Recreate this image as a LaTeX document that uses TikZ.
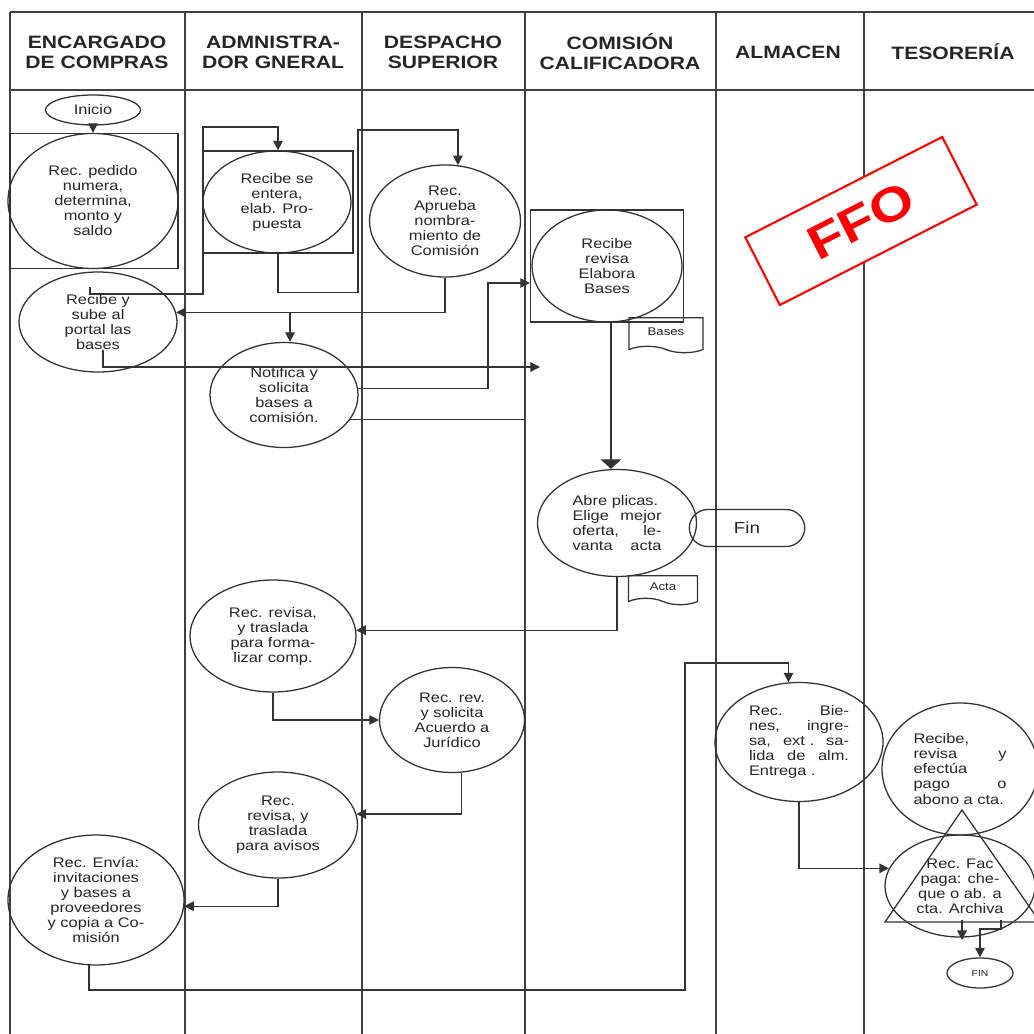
\documentclass[tikz,border=0pt]{standalone}
\usepackage{fontspec}
\setmainfont{Liberation Sans}[FakeStretch=1.18]
\usetikzlibrary{shapes.geometric,shapes.misc,shapes.symbols,arrows.meta}

\newcommand{\bodyfont}{\fontsize{8.7}{9.4}\selectfont}
\newcommand{\headfont}{\bfseries\fontsize{11.2}{12.5}\selectfont}

\begin{document}
\begin{tikzpicture}[x=0.626pt, y=-0.626pt,
    sz/.style 2 args={minimum width=#1*0.626pt, minimum height=#2*0.626pt},
    lane/.style={draw=black!75, line width=0.8pt},
    link/.style={draw=black!80, line width=0.8pt},
    flow/.style={link, -{Triangle[length=6pt,width=6pt]}},
    act/.style={ellipse, draw=black!80, line width=0.8pt, inner sep=0pt, align=center, text=black!85, font=\bodyfont},
    frame/.style={rectangle, draw=black!80, line width=0.8pt, inner sep=0pt},
    doc/.style={tape, tape bend top=none, tape bend bottom=out and in, tape bend height=4pt,
                draw=black!80, line width=0.8pt, inner sep=0pt, text=black!85, font=\fontsize{7}{8}\selectfont},
    hd/.style={align=center, text=black!85, font=\headfont}]

    \clip (0,0) rectangle (1034,1034);
    \fill[white] (0,0) rectangle (1034,1034);

    % swimlanes
    \draw[lane] (10,12) -- (1034,12) (10,90) -- (1034,90);
    \foreach \x in {10,185,362,525,716,864}
        \draw[lane] (\x,12) -- (\x,1034);

    \foreach \x/\t [count=\i] in {97/{ENCARGADO\\DE COMPRAS}, 273/{ADMNISTRA-\\DOR GNERAL},
            443/{DESPACHO\\SUPERIOR}, 620/{COMISIÓN\\CALIFICADORA}, 788/{ALMACEN}, 953/{TESORERÍA}}
        \node[hd] (h\i) at (\x,52) {\t};

    % activities
    \node[act, sz={95}{30}] (inicio) at (93,110) {Inicio};
    \node[frame, sz={168}{135}] (pedidobox) at (94,201) {};
    \node[act, sz={170}{135}] (pedido) at (93,201) {Rec. pedido\\numera,\\determina,\\monto y\\saldo};
    \node[act, sz={158}{100}] (sube) at (98,322) {Recibe y\\sube al\\portal las\\bases};
    \node[frame, sz={150}{102}] (enterabox) at (278,202) {};
    \node[act, sz={148}{102}] (entera) at (277,202) {Recibe se\\entera,\\elab. Pro-\\puesta};
    \node[act, sz={151}{112}] (aprueba) at (445,221) {Rec.\\Aprueba\\nombra-\\miento de\\Comisión};
    \node[act, sz={148}{105}] (notifica) at (284,395) {Notifica y\\solicita\\bases a\\comisión.};
    \node[frame, sz={153}{112}] (elaborabox) at (607,266) {};
    \node[act, sz={150}{112}] (elabora) at (607,266) {Recibe\\revisa\\Elabora\\Bases};
    \node[doc, sz={74}{35}] (bases) at (666,332) {Bases};
    \node[act, sz={159}{107}, text width=55.7pt, align=left] (plicas) at (617,523)
        {Abre plicas.\\Elige\hfill mejor\\oferta,\hfill le-\\vanta\hfill acta};
    \node[rounded rectangle, draw=black!80, line width=0.8pt, sz={126}{37}, text=black!85,
          font=\fontsize{10}{12}\selectfont] (fin) at (747,528) {Fin};
    \node[doc, sz={69}{29}] (acta) at (663,587) {Acta};
    \node[act, sz={166}{112}] (formalizar) at (273,636) {Rec. revisa,\\y traslada\\para forma-\\lizar comp.};
    \node[act, sz={145}{105}] (juridico) at (452,720) {Rec. rev.\\y solicita\\Acuerdo a\\Jurídico};
    \node[act, sz={159}{106}] (avisos) at (278,825) {Rec.\\revisa,  y\\traslada\\para avisos};
    \node[act, sz={176}{130}] (envia) at (96,900) {Rec. Envía:\\invitaciones\\y bases a\\proveedores\\y copia  a Co-\\misión};
    \node[act, sz={168}{119}, text width=62.6pt, align=left] (bienes) at (799,742)
        {Rec.\hfill Bie-\\nes,\hfill ingre-\\sa,\hfill ext .\hfill sa-\\lida\hfill de\hfill alm.\\Entrega .};
    \node[act, sz={156}{132}, text width=58.2pt, align=left] (efectua) at (960,769)
        {Recibe,\\revisa\hfill y\\efectúa\\pago\hfill o\\abono a cta.\\[5pt]};
    \node[act, sz={150}{102}] (fac) at (960,886) {Rec. Fac\\paga: che-\\que o ab. a\\cta. Archiva};
    \draw[link] (885,922) -- (962,810) -- (1040,922) -- cycle;
    \node[act, sz={66}{30}, font=\fontsize{5.5}{6}\selectfont] (finb) at (980,973) {FIN};

    % connectors
    \coordinate (a1) at (90,287);
    \coordinate (a2) at (203,127);
    \coordinate (b1) at (358,130);
    \coordinate (b2) at (290,313);
    \coordinate (b3) at (488,283);
    \coordinate (b4) at (525,419);
    \coordinate (b5) at (103,350);
    \coordinate (b6) at (540,367);
    \coordinate (d1) at (685,990);
    \coordinate (d2) at (685,663);
    \coordinate (e1) at (962,920);
    \coordinate (e2) at (962,940);
    \coordinate (e3) at (1001,920);

    \draw[flow] (inicio.south) -- (pedido.north);
    \draw[flow] (a1) -- ++(0,7) -| (a2) -| (enterabox.north);
    \draw[flow] (enterabox.south) -- ++(0,39) -| (b1) -| (aprueba.77);
    \draw[flow] (aprueba.south) |- (sube.7);
    \draw[flow] (b2) -- (b2 |- notifica.north);
    \draw[flow] (notifica.5) -| (b3) -- (elaborabox.west |- b3);
    \draw[link] (notifica.-20) -- (notifica.-20 -| b4);
    \draw[flow] (b5) |- (b6);
    \draw[link, -{Triangle[length=6pt,width=13pt]}] (elabora.-86) -- (elabora.-86 |- plicas.north);
    \draw[flow] (plicas.south) |- (formalizar.4);
    \draw[flow] (formalizar.south) |- (juridico.west);
    \draw[flow] (juridico.-80) |- (avisos.8);
    \draw[flow] (avisos.south) |- (envia.-4);
    \draw[flow] (envia.-96) |- (d1) -- (d2) -| (bienes.100);
    \draw[flow] (bienes.south) |- (fac.166);
    \draw[flow] (e1) -- (e2);
    \draw[flow] (e3) -- ++(0,9) -| (finb.north);

    % stamp
    \node[draw=red, fill=white, line width=1.3pt, rotate=27, sz={221}{76}, text=red,
          font=\bfseries\fontsize{30}{30}\selectfont] (stamp) at (861,221) {FFO};
\end{tikzpicture}
\end{document}
